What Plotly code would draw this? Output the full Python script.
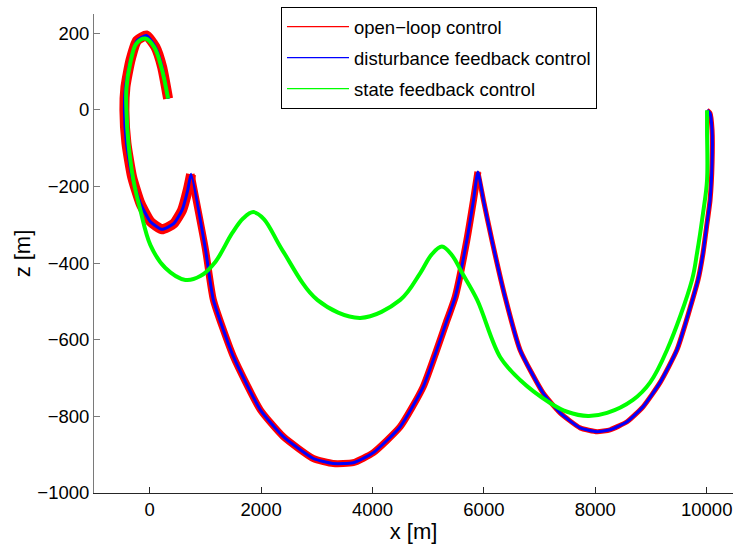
import plotly.graph_objects as go

# ---- data (x [m], z [m]) ----
openloop_x = [330, 222, 102, -59, -226, -346, -436, -454, -418, -316, -167, 13, 222, 431, 581, 682, 743,
              1003, 1143, 1505, 1986, 2399, 2937, 3296, 3654, 4013, 4498, 4910, 5341, 5484, 5694, 5813, 5892,
              5992, 6143, 6381, 6650, 7063, 7368, 7727, 8032, 8265, 8570, 8857, 9162, 9467, 9844, 9934,
              10006, 10060, 10096, 10096, 10060, 10006]
openloop_z = [29, 112, 164, 194, 181, 129, 59, -1, -87, -175, -244, -292, -312, -297, -262, -210, -168,
              -366, -496, -645, -783, -853, -910, -923, -921, -895, -827, -723, -548, -489, -340, -236, -162,
              -236, -340, -489, -627, -739, -791, -830, -840, -835, -814, -775, -712, -626, -444, -374,
              -296, -236, -139, -53, -9, -1]

distfb_x = [330, 222, 102, -59, -226, -346, -436, -454, -418, -316, -167, 13, 222, 431, 581, 682, 743,
            1003, 1143, 1505, 1986, 2399, 2937, 3296, 3654, 4013, 4498, 4910, 5341, 5484, 5694, 5813, 5892,
            5992, 6143, 6381, 6650, 7063, 7368, 7727, 8032, 8265, 8570, 8857, 9162, 9467, 9844, 9934,
            10006, 10060, 10096, 10096, 10060, 10006]
distfb_z = [29, 112, 164, 194, 181, 129, 59, -1, -87, -175, -244, -292, -312, -297, -262, -210, -168,
            -366, -496, -645, -783, -853, -910, -923, -921, -895, -827, -723, -548, -489, -340, -236, -162,
            -236, -340, -489, -627, -739, -791, -830, -840, -835, -814, -775, -712, -626, -444, -374,
            -296, -236, -139, -53, -9, -1]

statefb_x = [330, 210, 84, -77, -239, -346, -418, -418, -382, -292, -167, 13, 282, 640, 909, 1178, 1480,
             1680, 1860, 2050, 2381, 3009, 3780, 4498, 4857, 5060, 5246, 5430, 5610, 5879, 6291, 6650,
             7188, 7493, 7870, 8211, 8677, 8982, 9287, 9736, 9826, 9934, 10006, 10006, 10006]
statefb_z = [29, 111, 163, 186, 173, 124, 56, -1, -87, -184, -262, -353, -413, -444, -434, -397, -322,
             -283, -267, -285, -366, -496, -543, -496, -426, -378, -357, -380, -426, -496, -645, -705,
             -765, -788, -799, -791, -757, -712, -627, -444, -374, -270, -184, -53, -1]

x_ticks = [0, 2000, 4000, 6000, 8000, 10000]
x_ticktext = ["0", "2000", "4000", "6000", "8000", "10000"]
z_ticks = [-1000, -800, -600, -400, -200, 0, 200]
z_ticktext = ["\u22121000", "\u2212800", "\u2212600", "\u2212400", "\u2212200", "0", "200"]

names = ["open\u2212loop control", "disturbance feedback control", "state feedback control"]
colors = ["#ff0000", "#0000ff", "#00ff00"]

FONT = "Liberation Sans, Arial, Helvetica, sans-serif"

fig = go.Figure()

# open-loop bundle: wide in the first loop, narrower in later arcs (split at the cusps)
seg_bounds = [(0, 17, 10), (16, 33, 7), (32, len(openloop_x), 5)]
for a, b, w in seg_bounds:
    fig.add_trace(go.Scatter(x=openloop_x[a:b], y=openloop_z[a:b], mode="lines",
                             line=dict(color=colors[0], width=w, shape="spline", smoothing=0.5),
                             showlegend=False, hoverinfo="skip"))

fig.add_trace(go.Scatter(x=distfb_x, y=distfb_z, mode="lines",
                         line=dict(color=colors[1], width=3, shape="spline", smoothing=0.5),
                         showlegend=False))
fig.add_trace(go.Scatter(x=statefb_x, y=statefb_z, mode="lines",
                         line=dict(color=colors[2], width=4, shape="spline", smoothing=1.0),
                         showlegend=False))

# legend entries (thin lines as in the reference legend)
for i, (nm, c) in enumerate(zip(names, colors)):
    fig.add_trace(go.Scatter(x=[None], y=[None], mode="lines", name=nm,
                             line=dict(color=c, width=1.2), legendgroup=str(i)))

fig.update_layout(
    width=733, height=544,
    margin=dict(l=94, r=0, t=14, b=51, pad=0),
    paper_bgcolor="white", plot_bgcolor="white",
    font=dict(family=FONT, size=18.5, color="black"),
    showlegend=True,
    legend=dict(x=(281 - 94) / 639, y=1 + 7 / 479.3, xanchor="left", yanchor="top",
                bordercolor="black", borderwidth=1, bgcolor="white",
                font=dict(family=FONT, size=18.5, color="black"),
                tracegroupgap=4, itemwidth=62),
    xaxis=dict(range=[-1000, 10472], tickvals=x_ticks, ticktext=x_ticktext,
               ticks="inside", ticklen=6, tickcolor="#262626", showline=True,
               linecolor="#262626", linewidth=1, showgrid=False, zeroline=False,
               title=dict(text="x [m]", standoff=2), automargin=False),
    yaxis=dict(range=[-1000, 250], tickvals=z_ticks, ticktext=z_ticktext,
               ticks="inside", ticklen=6, tickcolor="#7a7a7a", showline=True,
               linecolor="#7a7a7a", linewidth=1, showgrid=False, zeroline=False,
               title=dict(text="z [m]", standoff=0), automargin=False),
)

fig.write_html("out.html", config={"displayModeBar": False},
               post_script="document.body.style.margin='0px';document.body.style.overflow='hidden';")
